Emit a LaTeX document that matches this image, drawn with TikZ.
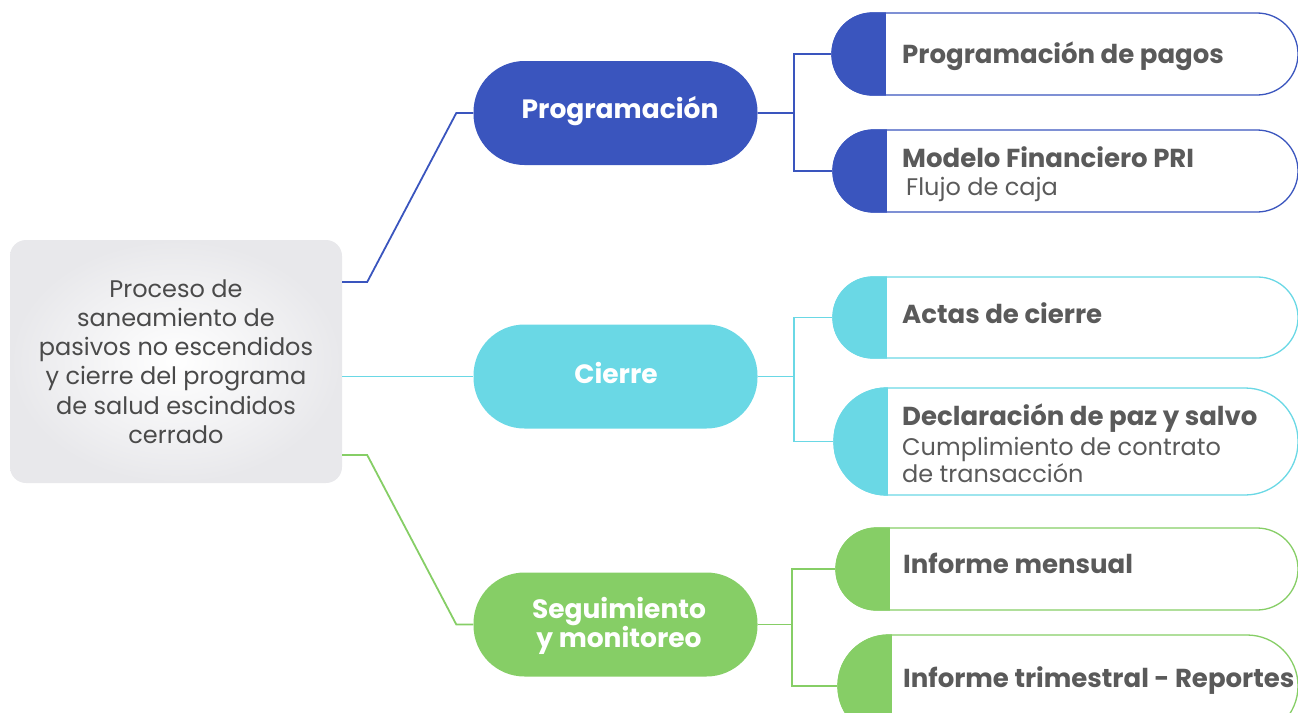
\documentclass[tikz,border=0pt]{standalone}
\usepackage{fontspec}
\setmainfont{Poppins}
\definecolor{cblue}{HTML}{3A55BE}
\definecolor{ccyan}{HTML}{6AD8E5}
\definecolor{cgreen}{HTML}{86CE66}
\definecolor{ctext}{HTML}{5A5A5A}
\definecolor{croot}{HTML}{4A4A4A}
\definecolor{rootout}{HTML}{E8E8EB}
% name, colour, left x, top y, bottom y, radius
\newcommand\leafbox[6]{%
  \node[draw=#2, fill=white, line width=1.3pt, rounded corners=#6pt,
        minimum width=1298pt-#3pt, minimum height=#5pt-#4pt, inner sep=0pt]
        (#1) at ({(#3+1298)/2},{(#4+#5)/2}) {};
  \begin{scope}
    \clip[rounded corners=#6pt] (#1.south west) rectangle (#1.north east);
    \fill[#2] (#1.south west) rectangle ([xshift=55pt]#1.north west);
  \end{scope}}
\begin{document}
\begin{tikzpicture}[x=1pt,y=-1pt,
  pill/.style={rounded corners=51pt, minimum width=284pt, minimum height=104pt,
    inner sep=0pt},
  pilltext/.style={inner sep=0pt, text=white, align=center,
    font=\fontsize{26.5}{27.5}\selectfont\bfseries},
  conn/.style={line width=1.8pt},
  lbold/.style={anchor=base west, inner sep=0pt, text=ctext,
    font=\fontsize{26}{28}\selectfont\bfseries},
  lreg/.style={anchor=base west, inner sep=0pt, text=ctext,
    font=\fontsize{24}{28}\selectfont}]
\useasboundingbox (0,0) rectangle (1298,712);
\begin{scope}
\clip (0,0) rectangle (1298,712);
% root
\node[rounded corners=16pt, minimum width=332pt, minimum height=243pt,
      inner color=white, outer color=rootout, text=croot, align=center,
      font=\fontsize{24}{29.2}\selectfont] (r) at (176,361.5)
  {Proceso de\\saneamiento de\\pasivos no escendidos\\y cierre del programa\\de salud escindidos\\cerrado};
% pills
\node[pill, fill=cblue] (p) at (615.5,113) {};
\node[pill, fill=ccyan] (c) at (615.5,376.5) {};
\node[pill, fill=cgreen] (s) at (615.5,624.5) {};
\node[pilltext] (pt) at (620,111) {Programación};
\node[pilltext] (ct) at (616,373) {Cierre};
\node[pilltext] (st) at (619,626) {Seguimiento\\y monitoreo};
% leaves
\leafbox{b1}{cblue}{832}{13}{95}{41}
\leafbox{b2}{cblue}{833}{130}{212}{41}
\leafbox{c1}{ccyan}{833}{277}{358}{40.5}
\leafbox{c2}{ccyan}{834}{388}{495}{53}
\leafbox{g1}{cgreen}{836}{528}{610}{41}
\leafbox{g2}{cgreen}{838}{635}{737}{51}
% leaf texts
\node[lbold] (tb1) at (902,63) {Programación de pagos};
\node[lbold] (tb2) at (902,167) {Modelo Financiero PRI};
\node[lreg] (tb2b) at (906,195) {Flujo de caja};
\node[lbold] (tc1) at (902,323) {Actas de cierre};
\node[lbold] (tc2) at (902,425) {Declaración de paz y salvo};
\node[lreg] (tc2b) at (902,455) {Cumplimiento de contrato};
\node[lreg] (tc2c) at (902,482) {de transacción};
\node[lbold] (tg1) at (903,573) {Informe mensual};
\node[lbold] (tg2) at (903,687) {Informe trimestral - Reportes};
% root to pills
\draw[conn, cblue] ([yshift=79.5pt]r.east) -- ++(25,0) -- ([xshift=-17pt]p.west) -- (p.west);
\draw[conn, ccyan] ([yshift=-15pt]r.east) -- (c.west |- {(0,376.5)});
\draw[conn, cgreen] ([yshift=-93.5pt]r.east) -- ++(25,0) -- ([xshift=-17pt]s.west) -- (s.west);
% pills to leaves
\coordinate (pj) at ([xshift=36pt]p.east);
\coordinate (cj) at ([xshift=36pt]c.east);
\coordinate (sj) at ([xshift=34pt]s.east);
\draw[conn, cblue] (p.east) -- (pj);
\draw[conn, cblue] (b1.west) -| (pj) |- (b2.west);
\draw[conn, ccyan] (c.east) -- (cj);
\draw[conn, ccyan] (c1.west) -| (cj) |- (c2.west);
\draw[conn, cgreen] (s.east) -- (sj);
\draw[conn, cgreen] (g1.west) -| (sj) |- (g2.west);
\end{scope}
\end{tikzpicture}
\end{document}
